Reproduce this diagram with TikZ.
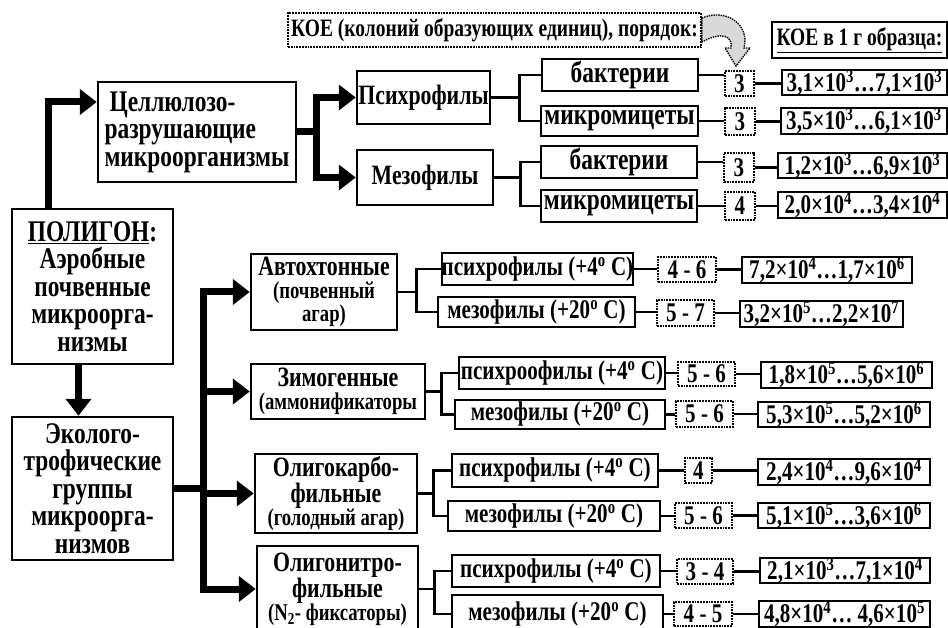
\documentclass[tikz,border=0pt]{standalone}
\usepackage{fontspec}
\setmainfont{Liberation Serif}[FakeStretch=0.78]
\usetikzlibrary{arrows.meta}

\newcommand{\bigfnt}{\fontsize{30}{27.5}\selectfont\bfseries}
\newcommand{\psyfnt}{\fontsize{28}{28}\selectfont\bfseries}
\newcommand{\midfnt}{\fontsize{28}{23}\selectfont\bfseries}
\newcommand{\parfnt}{\fontsize{24}{23}\selectfont}
\newcommand{\smfnt}{\fontsize{27}{27}\selectfont\bfseries}
\newcommand{\bactfnt}{\fontsize{30}{30}\selectfont\bfseries}
\newcommand{\valfnt}{\fontsize{27}{27}\selectfont\bfseries}
\newcommand{\koefnt}{\fontsize{25}{25}\selectfont\bfseries}
\newcommand{\ee}[1]{×10\textsuperscript{#1}}
\newcommand{\dg}{\textsuperscript{o}}

\begin{document}
\begin{tikzpicture}[x=1pt, y=-1pt]
\tikzstyle{mainbox} = [rectangle, draw, line width=2.5pt, align=center, font=\bigfnt, inner sep=0pt]
\tikzstyle{groupbox} = [rectangle, draw, line width=2.5pt, align=center, font=\midfnt, inner sep=0pt]
\tikzstyle{subbox} = [rectangle, draw, line width=2.2pt, font=\smfnt, inner sep=0pt]
\tikzstyle{microbe} = [subbox, font=\bactfnt]
\tikzstyle{numbox} = [rectangle, draw, densely dotted, line width=1.8pt, font=\smfnt, inner sep=0pt]
\tikzstyle{valbox} = [rectangle, draw, line width=2.2pt, font=\valfnt, inner sep=0pt]
\tikzstyle{bigarrow} = [draw, line width=7pt, -{Triangle[length=17pt,width=25pt]}]
\tikzstyle{thickline} = [draw, line width=7pt]
\tikzstyle{line} = [draw, line width=2.5pt]

\clip (0,0) rectangle (948,628);

% header
\node[numbox, font=\koefnt, minimum width=413pt, minimum height=34pt] (koe) at (494.5,30) {КОЕ (колоний образующих единиц), порядок:};
\node[valbox, font=\koefnt, minimum width=175pt, minimum height=36pt] (koeg) at (859.5,40) {\underline{КОЕ в 1 г образца:}};
\draw[densely dotted, line width=1.4pt, fill=gray!30]
  ([yshift=12pt]koe.east) .. controls (726,8) and (750,24) .. (744,48)
  -- (750,48) -- (736,66) -- (725,48) -- (731,48)
  .. controls (733,36) and (722,31) .. ([yshift=-12pt]koe.east) -- cycle;

% cellulose part
\node[mainbox, align=left, minimum width=198pt, minimum height=100pt] (cell) at (197,132) {\,Целлюлозо-\\разрушающие\\микроорганизмы};
\node[mainbox, font=\psyfnt, minimum width=133pt, minimum height=53pt] (psy) at (423.5,97.5) {Психрофилы};
\node[mainbox, font=\psyfnt, minimum width=136pt, minimum height=55pt] (mes) at (425,177.5) {Мезофилы};

\node[microbe, minimum width=156pt, minimum height=32pt] (psyB) at (620,75) {бактерии};
\node[microbe, minimum width=157pt, minimum height=30pt] (psyM) at (619.5,121) {микромицеты};
\node[microbe, minimum width=156pt, minimum height=32pt] (mesB) at (619,162) {бактерии};
\node[microbe, minimum width=156pt, minimum height=32pt] (mesM) at (619,206) {микромицеты};

\node[numbox, minimum width=29pt, minimum height=25pt] (psyBn) at (739.5,83.5) {3};
\node[numbox, minimum width=30pt, minimum height=27pt] (psyMn) at (740,121.5) {3};
\node[numbox, minimum width=30pt, minimum height=29pt] (mesBn) at (739,167.5) {3};
\node[numbox, minimum width=30pt, minimum height=28pt] (mesMn) at (740,206) {4};

\node[valbox, minimum width=165pt, minimum height=25pt] (psyBv) at (864.5,82.5) {3,1\ee{3}…7,1\ee{3}};
\node[valbox, minimum width=166pt, minimum height=24pt] (psyMv) at (864,121) {3,5\ee{3}…6,1\ee{3}};
\node[valbox, minimum width=169pt, minimum height=25pt] (mesBv) at (862.5,165.5) {1,2\ee{3}…6,9\ee{3}};
\node[valbox, minimum width=169pt, minimum height=26pt] (mesMv) at (862.5,205) {2,0\ee{4}…3,4\ee{4}};

% left column
\node[mainbox, minimum width=161pt, minimum height=155pt] (pol) at (92.5,286.5) {\underline{ПОЛИГОН}:\\Аэробные\\почвенные\\микроорга-\\низмы};
\node[mainbox, minimum width=161pt, minimum height=143pt] (eco) at (92.5,488.5) {Эколого-\\трофические\\группы\\микроорга-\\низмов};

% trophic groups
\node[groupbox, minimum width=146pt, minimum height=76pt] (auto) at (324,292) {Автохтонные\\{\parfnt(почвенный}\\{\parfnt агар)}};
\node[groupbox, minimum width=174pt, minimum height=55pt] (zymo) at (338,391.5) {Зимогенные\\{\parfnt(аммонификаторы}};
\node[groupbox, minimum width=162pt, minimum height=79pt] (olcarb) at (336,493.5) {Олигокарбо-\\фильные\\{\parfnt(голодный агар)}};
\node[groupbox, minimum width=161pt, minimum height=86pt] (olnitr) at (337.5,589) {Олигонитро-\\фильные\\{\parfnt(N\textsubscript{2}- фиксаторы)}};

\node[subbox, minimum width=191pt, minimum height=32pt] (autoP) at (537.5,269) {психрофилы (+4\dg{} C)};
\node[subbox, minimum width=197pt, minimum height=30pt] (autoM) at (536.5,312) {мезофилы (+20\dg{} C)};
\node[subbox, minimum width=206pt, minimum height=32pt] (zymoP) at (562,373) {психроофилы (+4\dg{} C)};
\node[subbox, minimum width=210pt, minimum height=29pt] (zymoM) at (560,414.5) {мезофилы (+20\dg{} C)};
\node[subbox, minimum width=206pt, minimum height=33pt] (olcarbP) at (555,470.5) {психрофилы (+4\dg{} C)};
\node[subbox, minimum width=212pt, minimum height=30pt] (olcarbM) at (554,516) {мезофилы (+20\dg{} C)};
\node[subbox, minimum width=208pt, minimum height=32pt] (olnitrP) at (556,571) {психрофилы (+4\dg{} C)};
\node[subbox, minimum width=211pt, minimum height=38pt] (olnitrM) at (557.5,614) {мезофилы (+20\dg{} C)};

\node[numbox, minimum width=58pt, minimum height=25pt] (autoPn) at (687,269.5) {4 - 6};
\node[numbox, minimum width=57pt, minimum height=26pt] (autoMn) at (685.5,313) {5 - 7};
\node[numbox, minimum width=57pt, minimum height=24pt] (zymoPn) at (706.5,374) {5 - 6};
\node[numbox, minimum width=57pt, minimum height=26pt] (zymoMn) at (704.5,414) {5 - 6};
\node[numbox, minimum width=27pt, minimum height=25pt] (olcarbPn) at (698.5,470.5) {4};
\node[numbox, minimum width=57pt, minimum height=25pt] (olcarbMn) at (703.5,515.5) {5 - 6};
\node[numbox, minimum width=56pt, minimum height=25pt] (olnitrPn) at (705,571.5) {3 - 4};
\node[numbox, minimum width=58pt, minimum height=24pt] (olnitrMn) at (703,614) {4 - 5};

\node[valbox, minimum width=170pt, minimum height=24pt] (autoPv) at (827,270) {7,2\ee{4}…1,7\ee{6}};
\node[valbox, minimum width=163pt, minimum height=24pt] (autoMv) at (821.5,314) {3,2\ee{5}…2,2\ee{7}};
\node[valbox, minimum width=171pt, minimum height=24pt] (zymoPv) at (846.5,375) {1,8\ee{5}…5,6\ee{6}};
\node[valbox, minimum width=172pt, minimum height=25pt] (zymoMv) at (844,414.5) {5,3\ee{5}…5,2\ee{6}};
\node[valbox, minimum width=172pt, minimum height=26pt] (olcarbPv) at (844,472) {2,4\ee{4}…9,6\ee{4}};
\node[valbox, minimum width=172pt, minimum height=25pt] (olcarbMv) at (844,515.5) {5,1\ee{5}…3,6\ee{6}};
\node[valbox, minimum width=170pt, minimum height=25pt] (olnitrPv) at (845,570.5) {2,1\ee{3}…7,1\ee{4}};
\node[valbox, minimum width=171pt, minimum height=25pt] (olnitrMv) at (844.5,614) {4,8\ee{4}… 4,6\ee{5}};

% thick arrows
\draw[bigarrow] ([xshift=-44pt]pol.north) |- ([yshift=30pt]cell.west);
\draw[bigarrow] ([xshift=-14pt]pol.south) -- ([xshift=-14pt]eco.north);
\draw[thickline] (cell.east) -- ++(19,0) coordinate (jc);
\draw[bigarrow] (jc) |- (psy.west);
\draw[bigarrow] (jc) |- (mes.west);
\draw[thickline] (eco.east) -- ++(29,0) coordinate (je);
\foreach \g in {auto, zymo, olcarb, olnitr}
  \draw[bigarrow] (je) |- (\g.west);

% thin branches
\foreach \g/\d/\a/\b in {psy/28/B/M, mes/26/B/M, auto/18/P/M, zymo/15/P/M, olcarb/15/P/M, olnitr/15/P/M} {
  \draw[line] (\g.east) -- ++(\d,0) coordinate (j\g);
  \draw[line] (j\g) |- (\g\a.west);
  \draw[line] (j\g) |- (\g\b.west);
}
\foreach \r in {psyB, psyM, mesB, mesM, autoP, autoM, zymoP, zymoM, olcarbP, olcarbM, olnitrP, olnitrM} {
  \draw[line] (\r.east) -- (\r.east -| \r n.west);
  \draw[line] (\r n.east) -- (\r n.east -| \r v.west);
}
\end{tikzpicture}
\end{document}
